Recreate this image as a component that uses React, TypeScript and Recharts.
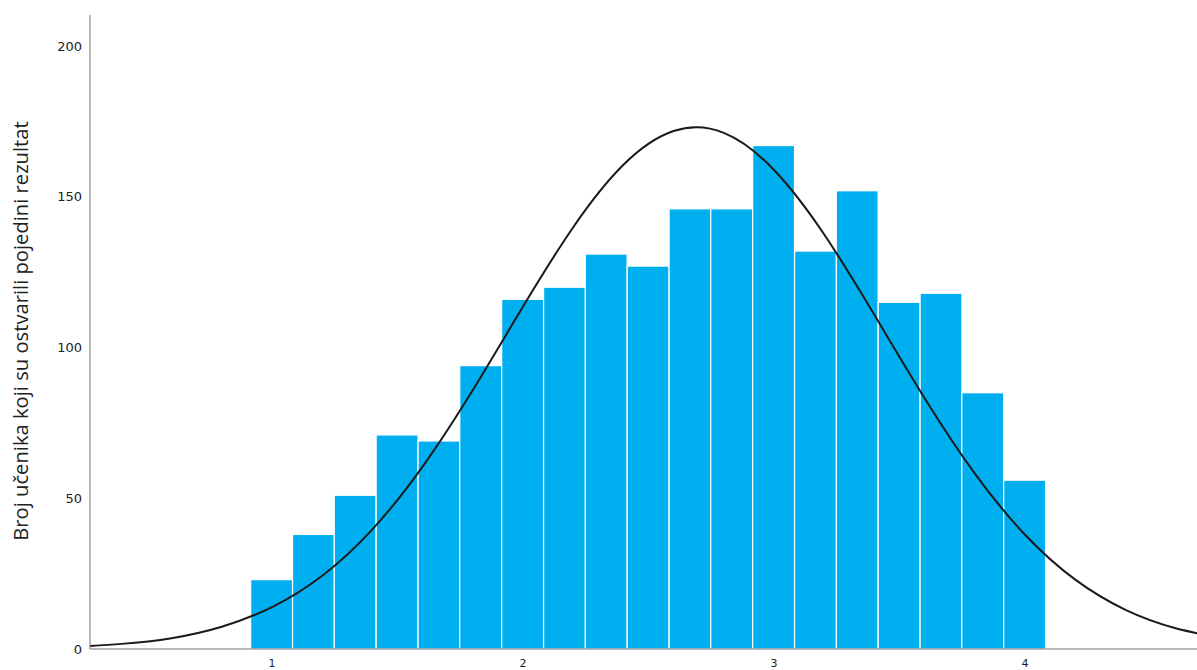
import React from "react";
import {
  ComposedChart,
  Bar,
  Line,
  XAxis,
  YAxis,
} from "recharts";

// histogram bins (midpoints) and counts
const binCenters = [
  1.0, 1.167, 1.333, 1.5, 1.667, 1.833, 2.0, 2.167, 2.333, 2.5, 2.667, 2.833,
  3.0, 3.167, 3.333, 3.5, 3.667, 3.833, 4.0,
];
const binCounts = [
  23, 38, 51, 71, 69, 94, 116, 120, 131, 127, 146, 146, 167, 132, 152, 115,
  118, 85, 56,
];
const binWidth = 1 / 6;

// normal curve
const curveX = [
  0.2, 0.4, 0.6, 0.8, 1.0, 1.2, 1.4, 1.6, 1.8, 2.0, 2.2, 2.4, 2.6, 2.8, 3.0,
  3.2, 3.4, 3.6, 3.8, 4.0, 4.2, 4.4, 4.6, 4.8,
];
const curveY = [
  0.7, 1.7, 3.6, 7.4, 13.9, 24.3, 39.7, 60.5, 85.9, 113.6, 139.9, 160.6, 171.8,
  171.2, 158.9, 137.5, 110.8, 83.2, 58.2, 37.9, 23.0, 13.0, 6.9, 3.4,
];

const xDomain = [0.275, 4.685];
const xTicks = [1, 2, 3, 4];
const yTicks = [0, 50, 100, 150, 200];

const yLabel = "Broj učenika koji su ostvarili pojedini rezultat";

const CHART_W = 1197;
const Y_AXIS_W = 90;
// pixel width of one bin on the x scale
const binPx = (binWidth / (xDomain[1] - xDomain[0])) * (CHART_W - Y_AXIS_W);

interface Row {
  x: number;
  count?: number;
  curve?: number;
}

const rows: Row[] = [
  ...binCenters.map((x, i) => ({ x, count: binCounts[i] })),
  ...curveX.map((x, i) => ({ x, curve: curveY[i] })),
].sort((a, b) => a.x - b.x);

// draw each bar one full bin wide, centred on its midpoint
const HistBar = (props: any) => {
  const { x, y, width, height } = props;
  if (height == null || height <= 0) return null;
  const cx = x + width / 2;
  return (
    <rect
      x={cx - binPx / 2}
      y={y}
      width={binPx}
      height={height}
      fill="#00AFEF"
      stroke="#ffffff"
      strokeWidth={1.2}
    />
  );
};

const AxisLabel = () => (
  <text
    x={0}
    y={0}
    transform="translate(28, 331) rotate(-90)"
    textAnchor="middle"
    fontFamily="'Open Sans', sans-serif"
    fontSize={20.2}
    fill="#222"
  >
    {yLabel}
  </text>
);

const App = () => {
  return (
    <div style={{ position: "absolute", left: 0, top: 0 }}>
      <ComposedChart
        width={CHART_W}
        height={670}
        data={rows}
        margin={{ top: 15, right: 0, bottom: 0, left: 0 }}
        style={{ fontFamily: "'DejaVu Sans', sans-serif" }}
      >
        <XAxis
          dataKey="x"
          type="number"
          domain={xDomain}
          allowDataOverflow
          ticks={xTicks}
          tickLine={false}
          tickMargin={4}
          height={21}
          stroke="#777"
          tick={{ fill: "#222", fontSize: 11 }}
        />
        <YAxis
          type="number"
          domain={[0, 210.3]}
          allowDataOverflow
          ticks={yTicks}
          tickLine={false}
          width={Y_AXIS_W}
          stroke="#777"
          tick={{ fill: "#222", fontSize: 13 }}
          label={<AxisLabel />}
        />
        <Bar
          dataKey="count"
          barSize={10}
          shape={<HistBar />}
          isAnimationActive={false}
        />
        <Line
          dataKey="curve"
          type="natural"
          stroke="#1a1a1a"
          strokeWidth={2}
          dot={false}
          activeDot={false}
          connectNulls
          isAnimationActive={false}
        />
      </ComposedChart>
    </div>
  );
};

export default App;
